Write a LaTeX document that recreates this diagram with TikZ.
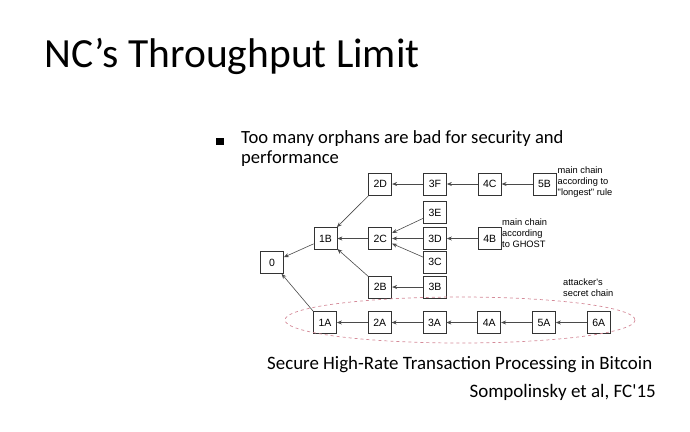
\documentclass[tikz,border=0pt]{standalone}
\usepackage{fontspec}
\setmainfont{Carlito}
\newfontfamily\diagfont{Liberation Sans}
\usepackage{tikz}
\usetikzlibrary{arrows.meta,positioning}
\definecolor{ncblock}{HTML}{333333}
\definecolor{ncarrow}{HTML}{4A4A4A}
\definecolor{ncsecret}{HTML}{D48A98}
\tikzset{
  block/.style={draw=ncblock,line width=.75pt,fill=white,minimum width=23pt,
    minimum height=22pt,inner sep=0pt,font=\diagfont\fontsize{10.5}{11}\selectfont},
  ref/.style={-{Stealth[length=5pt,width=4pt]},line width=.6pt,draw=ncarrow},
  note/.style={font=\diagfont\fontsize{9.3}{11}\selectfont,align=left,inner sep=0pt},
  slidetext/.style={inner sep=0pt}
}

\begin{document}
\begin{tikzpicture}[x=1pt,y=-1pt,node distance=31pt]
    \useasboundingbox (0,0) rectangle (690,431);
    \node[slidetext,anchor=base west,font=\fontsize{41.5}{44}\selectfont] (title) at (44,67) {NC’s Throughput Limit};
    \node[fill=black,minimum width=8pt,minimum height=7pt,inner sep=0pt] (bullet) at (220,141.5) {};
    \node[slidetext,anchor=north west,align=left,font=\fontsize{18.6}{20}\selectfont] (point) at (241,130.5) {Too many orphans are bad for security and\\performance};
    % honest chain
    \node[block] (b0) at (272,262.5) {0};
    \node[block] (b1B) at (325.5,238.5) {1B};
    \node[block,right=of b1B] (b2C) {2C};
    \node[block,right=of b2C] (b3D) {3D};
    \node[block,right=of b3D] (b4B) {4B};
    \node[block,above=3pt of b3D] (b3E) {3E};
    \node[block,below=1pt of b3D] (b3C) {3C};
    \node[block,below=2pt of b3C] (b3B) {3B};
    \node[block,left=of b3B] (b2B) {2B};
    \node[block,above=6pt of b3E] (b3F) {3F};
    \node[block,left=of b3F] (b2D) {2D};
    \node[block,right=of b3F] (b4C) {4C};
    \node[block,right=of b4C] (b5B) {5B};
    % attacker chain
    \node[block] (b1A) at (325,322.5) {1A};
    \node[block,right=of b1A] (b2A) {2A};
    \node[block,right=of b2A] (b3A) {3A};
    \node[block,right=of b3A] (b4A) {4A};
    \node[block,right=of b4A] (b5A) {5A};
    \node[block,right=of b5A] (b6A) {6A};
    \draw[ncsecret,dashed,line width=.7pt] (460,320) ellipse (175 and 23);
    \node[note,anchor=north west] (longest) at (557.5,167) {main chain\\according to\\\textquotedbl longest\textquotedbl{} rule};
    \node[note,anchor=north west] (ghost) at (502,219) {main chain\\according\\to GHOST};
    \node[note,anchor=north west] (secret) at (563,279) {attacker\textquotesingle s\\secret chain};
    \draw[ref] (b1B)--(b0);
    \draw[ref] (b2D)--(b1B);
    \draw[ref] (b2C)--(b1B);
    \draw[ref] (b2B)--(b1B);
    \draw[ref] (b3F)--(b2D);
    \draw[ref] (b4C)--(b3F);
    \draw[ref] (b5B)--(b4C);
    \draw[ref] (b3E)--(b2C);
    \draw[ref] (b3D)--(b2C);
    \draw[ref] (b3C)--(b2C);
    \draw[ref] (b4B)--(b3D);
    \draw[ref] (b3B)--(b2B);
    \draw[ref] (b1A.north west)--(b0);
    \draw[ref] (b2A)--(b1A);
    \draw[ref] (b3A)--(b2A);
    \draw[ref] (b4A)--(b3A);
    \draw[ref] (b5A)--(b4A);
    \draw[ref] (b6A)--(b5A);
    \node[slidetext,anchor=base west,font=\fontsize{18.9}{20}\selectfont] (paper) at (267,369) {Secure High-Rate Transaction Processing in Bitcoin};
    \node[slidetext,anchor=base east,font=\fontsize{19}{20}\selectfont] (cite) at (656,397) {Sompolinsky et al, FC\textquotesingle 15};
  \end{tikzpicture}
\end{document}
